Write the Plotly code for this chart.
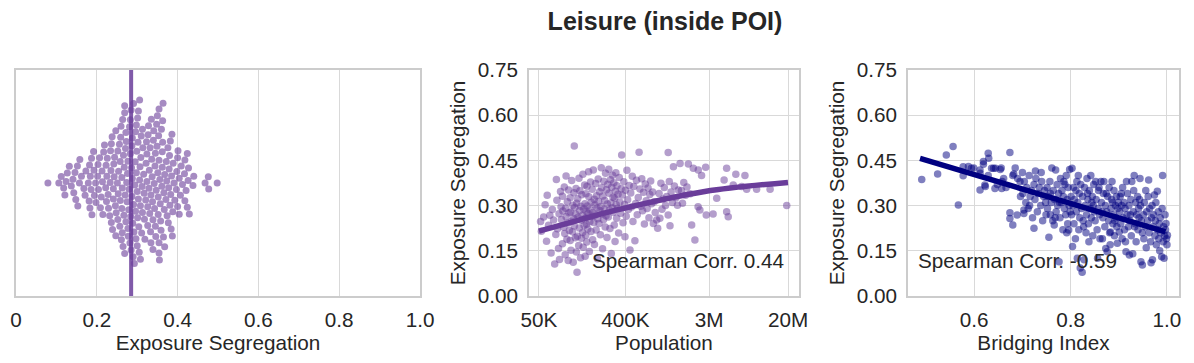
import numpy as np
import plotly.graph_objects as go

# --------------------------
# Data
# --------------------------
# Middle panel: city population (thousands) vs exposure segregation
population_k = [
    52, 53, 56, 58, 60, 61, 63, 65, 67, 69,
    71, 73, 75, 76, 77, 78, 80, 81, 82, 84,
    85, 86, 88, 88, 89, 91, 92, 93, 94, 95,
    96, 96, 98, 99, 100, 101, 102, 103, 104, 106,
    106, 107, 108, 110, 110, 112, 113, 114, 115, 116,
    117, 117, 118, 120, 121, 122, 123, 124, 125, 126,
    127, 128, 130, 131, 132, 133, 134, 136, 137, 138,
    139, 140, 142, 143, 144, 145, 147, 148, 150, 151,
    152, 153, 154, 155, 156, 157, 158, 159, 160, 162,
    163, 165, 166, 168, 170, 171, 173, 175, 176, 178,
    180, 182, 183, 185, 187, 189, 190, 192, 194, 196,
    198, 200, 202, 204, 206, 208, 210, 212, 215, 217,
    219, 222, 224, 226, 228, 231, 233, 236, 238, 241,
    243, 246, 248, 251, 254, 257, 259, 262, 265, 268,
    270, 273, 276, 279, 282, 285, 288, 291, 294, 297,
    300, 303, 306, 309, 312, 315, 318, 321, 324, 327,
    331, 335, 340, 345, 350, 357, 362, 366, 372, 378,
    385, 392, 396, 400, 408, 415, 422, 430, 438, 447,
    455, 463, 472, 480, 490, 503, 512, 522, 532, 545,
    556, 568, 580, 593, 605, 618, 632, 645, 660, 675,
    690, 705, 720, 735, 750, 770, 784, 800, 820, 849,
    870, 900, 918, 940, 965, 990, 1020, 1050, 1080, 1120,
    1120, 1150, 1170, 1200, 1240, 1270, 1300, 1350, 1400, 1430,
    1490, 1540, 1580, 1630, 1700, 1760, 1820, 1900, 1970, 2050,
    2130, 2310, 2300, 2400, 2500, 2760, 2800, 3300, 3600, 4300,
    4570, 4570, 4750, 5360, 5700, 6560, 7100, 7400, 9400, 13000, 19400,
]
segregation = [
    0.247, 0.215, 0.262, 0.303, 0.182, 0.334, 0.235, 0.268, 0.143, 0.287,
    0.252, 0.106, 0.204, 0.387, 0.318, 0.223, 0.158, 0.273, 0.121, 0.347,
    0.296, 0.254, 0.173, 0.331, 0.282, 0.228, 0.362, 0.207, 0.137, 0.291,
    0.398, 0.263, 0.188, 0.313, 0.242, 0.118, 0.352, 0.276, 0.217, 0.184,
    0.326, 0.279, 0.152, 0.248, 0.383, 0.213, 0.301, 0.112, 0.257, 0.343,
    0.232, 0.498, 0.294, 0.193, 0.271, 0.357, 0.146, 0.308, 0.079, 0.198,
    0.323, 0.261, 0.168, 0.391, 0.226, 0.284, 0.349, 0.127, 0.298, 0.251,
    0.192, 0.336, 0.267, 0.211, 0.404, 0.162, 0.289, 0.234, 0.368, 0.306,
    0.132, 0.259, 0.202, 0.339, 0.281, 0.238, 0.179, 0.364, 0.299, 0.222,
    0.274, 0.412, 0.329, 0.148, 0.246, 0.286, 0.378, 0.214, 0.311, 0.264,
    0.354, 0.187, 0.277, 0.418, 0.244, 0.321, 0.171, 0.302, 0.269, 0.373,
    0.219, 0.333, 0.292, 0.124, 0.256, 0.388, 0.314, 0.241, 0.346, 0.283,
    0.203, 0.297, 0.426, 0.359, 0.272, 0.157, 0.332, 0.253, 0.381, 0.288,
    0.317, 0.229, 0.407, 0.266, 0.353, 0.194, 0.305, 0.371, 0.262, 0.421,
    0.341, 0.285, 0.224, 0.386, 0.309, 0.141, 0.361, 0.293, 0.401, 0.328,
    0.278, 0.376, 0.236, 0.324, 0.181, 0.348, 0.409, 0.303, 0.258, 0.366,
    0.291, 0.338, 0.209, 0.393, 0.312, 0.275, 0.356, 0.468, 0.335, 0.243,
    0.379, 0.304, 0.197, 0.351, 0.265, 0.417, 0.319, 0.287, 0.367, 0.153,
    0.342, 0.295, 0.397, 0.247, 0.363, 0.183, 0.307, 0.384, 0.270, 0.327,
    0.477, 0.355, 0.298, 0.389, 0.283, 0.344, 0.239, 0.372, 0.316, 0.290,
    0.358, 0.260, 0.337, 0.382, 0.306, 0.345, 0.241, 0.313, 0.277, 0.252,
    0.225, 0.340, 0.258, 0.374, 0.288, 0.322, 0.360, 0.300, 0.330, 0.476,
    0.269, 0.380, 0.233, 0.345, 0.310, 0.429, 0.365, 0.326, 0.301, 0.352,
    0.440, 0.350, 0.308, 0.377, 0.334, 0.362, 0.438, 0.339, 0.236, 0.424,
    0.186, 0.418, 0.296, 0.285, 0.400, 0.427, 0.269, 0.272, 0.324, 0.385,
    0.424, 0.280, 0.263, 0.368, 0.404, 0.363, 0.400, 0.354, 0.354, 0.354, 0.300,
]

# fitted trend in the population panel
trend_pop_k = [50, 131, 320, 2700, 20000]
trend_seg = [0.215, 0.252, 0.285, 0.347, 0.377]

# Right panel: bridging index vs exposure segregation
bridging = [
    0.491, 0.524, 0.542, 0.556, 0.567, 0.577, 0.577, 0.588, 0.594, 0.599,
    0.612, 0.612, 0.612, 0.619, 0.619, 0.622, 0.623, 0.629, 0.629, 0.630,
    0.636, 0.640, 0.643, 0.644, 0.654, 0.656, 0.657, 0.661, 0.666, 0.674,
    0.674, 0.674, 0.680, 0.682, 0.685, 0.689, 0.695, 0.680, 0.700, 0.703,
    0.703, 0.690, 0.658, 0.648, 0.696,
    0.701, 0.704, 0.707, 0.709, 0.712, 0.714, 0.716, 0.719, 0.721, 0.724,
    0.726, 0.728, 0.731, 0.733, 0.735, 0.738, 0.740, 0.742, 0.744, 0.746,
    0.748, 0.749, 0.727, 0.715, 0.739, 0.724,
    0.751, 0.752, 0.754, 0.755, 0.757, 0.758, 0.760, 0.761, 0.763, 0.764,
    0.766, 0.767, 0.769, 0.770, 0.772, 0.773, 0.775, 0.776, 0.778, 0.779,
    0.781, 0.782, 0.784, 0.785, 0.787, 0.788, 0.790, 0.791, 0.793, 0.794,
    0.795, 0.796, 0.797, 0.798, 0.799, 0.758, 0.768, 0.777, 0.786, 0.792,
    0.801, 0.802, 0.803, 0.804, 0.805, 0.806, 0.807, 0.808, 0.810, 0.811,
    0.812, 0.813, 0.814, 0.815, 0.817, 0.818, 0.819, 0.820, 0.821, 0.823,
    0.824, 0.825, 0.826, 0.828, 0.829, 0.830, 0.832, 0.833, 0.834, 0.836,
    0.837, 0.838, 0.839, 0.841, 0.842, 0.843, 0.845, 0.846, 0.847, 0.848,
    0.849, 0.816, 0.827, 0.835, 0.844,
    0.851, 0.852, 0.853, 0.855, 0.856, 0.857, 0.858, 0.860, 0.861, 0.863,
    0.864, 0.866, 0.867, 0.868, 0.869, 0.871, 0.872, 0.873, 0.875, 0.876,
    0.877, 0.879, 0.880, 0.881, 0.883, 0.884, 0.885, 0.886, 0.888, 0.889,
    0.890, 0.891, 0.893, 0.894, 0.895, 0.896, 0.897, 0.898, 0.899, 0.859,
    0.865, 0.874, 0.882, 0.887, 0.892,
    0.901, 0.902, 0.903, 0.904, 0.906, 0.907, 0.908, 0.909, 0.911, 0.912,
    0.913, 0.915, 0.916, 0.917, 0.918, 0.920, 0.921, 0.922, 0.923, 0.925,
    0.926, 0.927, 0.929, 0.930, 0.931, 0.932, 0.934, 0.935, 0.936, 0.937,
    0.939, 0.940, 0.941, 0.942, 0.944, 0.945, 0.946, 0.947, 0.949, 0.949,
    0.905, 0.914, 0.924, 0.933, 0.943,
    0.951, 0.952, 0.953, 0.955, 0.956, 0.957, 0.958, 0.960, 0.961, 0.962,
    0.963, 0.964, 0.966, 0.967, 0.968, 0.969, 0.970, 0.971, 0.972, 0.974,
    0.975, 0.976, 0.977, 0.978, 0.980, 0.981, 0.982, 0.983, 0.984, 0.985,
    0.986, 0.987, 0.989, 0.990, 0.991, 0.992, 0.993, 0.994, 0.995, 0.996,
    0.997, 0.998, 0.999, 1.000, 1.001,
]
segregation_b = [
    0.387, 0.405, 0.468, 0.496, 0.302, 0.429, 0.399, 0.430, 0.424, 0.425,
    0.407, 0.418, 0.352, 0.446, 0.437, 0.368, 0.363, 0.474, 0.400, 0.457,
    0.424, 0.424, 0.357, 0.424, 0.420, 0.425, 0.357, 0.390, 0.360, 0.476,
    0.276, 0.257, 0.236, 0.405, 0.425, 0.269, 0.380, 0.400, 0.410, 0.274,
    0.285, 0.390, 0.380, 0.370, 0.330,
    0.340, 0.380, 0.310, 0.360, 0.290, 0.400, 0.330, 0.350, 0.260, 0.370,
    0.320, 0.390, 0.280, 0.340, 0.360, 0.300, 0.380, 0.250, 0.330, 0.350,
    0.310, 0.270, 0.415, 0.300, 0.410, 0.225,
    0.360, 0.290, 0.330, 0.195, 0.380, 0.270, 0.310, 0.425, 0.250, 0.350,
    0.236, 0.320, 0.418, 0.280, 0.370, 0.300, 0.340, 0.114, 0.260, 0.390,
    0.310, 0.350, 0.220, 0.330, 0.290, 0.370, 0.270, 0.400, 0.320, 0.240,
    0.360, 0.219, 0.300, 0.420, 0.280, 0.340, 0.260, 0.310, 0.380, 0.210,
    0.330, 0.270, 0.424, 0.164, 0.300, 0.360, 0.240, 0.320, 0.190, 0.350,
    0.280, 0.380, 0.125, 0.310, 0.220, 0.340, 0.260, 0.093, 0.370, 0.290,
    0.079, 0.330, 0.250, 0.120, 0.360, 0.300, 0.210, 0.270, 0.390, 0.320,
    0.240, 0.180, 0.350, 0.290, 0.400, 0.260, 0.330, 0.200, 0.300, 0.370,
    0.280, 0.400, 0.230, 0.340, 0.310,
    0.250, 0.380, 0.320, 0.220, 0.125, 0.290, 0.350, 0.270, 0.190, 0.380,
    0.310, 0.190, 0.260, 0.340, 0.380, 0.230, 0.300, 0.158, 0.280, 0.147,
    0.330, 0.250, 0.360, 0.210, 0.212, 0.290, 0.320, 0.380, 0.240, 0.270,
    0.350, 0.200, 0.300, 0.260, 0.330, 0.230, 0.175, 0.290, 0.310, 0.360,
    0.280, 0.340, 0.170, 0.310, 0.250,
    0.212, 0.280, 0.330, 0.240, 0.300, 0.190, 0.360, 0.260, 0.310, 0.220,
    0.290, 0.147, 0.380, 0.270, 0.340, 0.230, 0.300, 0.136, 0.250, 0.320,
    0.200, 0.380, 0.140, 0.280, 0.350, 0.400, 0.240, 0.310, 0.180, 0.270,
    0.330, 0.220, 0.290, 0.260, 0.390, 0.300, 0.114, 0.250, 0.103, 0.210,
    0.340, 0.180, 0.270, 0.230, 0.320,
    0.270, 0.190, 0.310, 0.230, 0.350, 0.160, 0.280, 0.250, 0.330, 0.385,
    0.210, 0.290, 0.180, 0.110, 0.260, 0.300, 0.120, 0.230, 0.270, 0.335,
    0.200, 0.250, 0.310, 0.170, 0.348, 0.220, 0.280, 0.190, 0.240, 0.150,
    0.260, 0.210, 0.130, 0.290, 0.400, 0.180, 0.230, 0.125, 0.200, 0.270,
    0.220, 0.241, 0.190, 0.170, 0.202,
]

# regression line in the bridging panel
trend_bridge = [0.4875, 0.997]
trend_bridge_seg = [0.457, 0.213]

# vertical line in the swarm panel
median_seg = 0.285

FONT = "Liberation Sans"
TXT = "#262626"
PURPLE = "#6a3d9a"
NAVY = "#000080"
W, H = 1194, 363
OFF = 8  # the page body adds an 8px margin around the figure
DOT = 7
SCAT = 7.5
FS = 20.7


# --------------------------
# Beeswarm offsets (pixel units) for the left panel
# --------------------------
def swarm_offsets(vals, px_per_unit, d):
    vals = np.asarray(vals)
    order = np.argsort(vals, kind="stable")
    offs = np.zeros(len(vals))
    placed = []
    for idx in order:
        x = vals[idx] * px_per_unit
        near = [(px, py) for px, py in placed if abs(px - x) < d]
        cands = [0.0]
        for px, py in near:
            dy = np.sqrt(d * d - (px - x) ** 2)
            cands += [py + dy, py - dy]
        cands.sort(key=abs)
        for c in cands:
            if all((px - x) ** 2 + (py - c) ** 2 >= d * d - 1e-6 for px, py in near):
                break
        placed.append((x, c))
        offs[idx] = c
    return offs


def xd(a, b):
    return [(a - OFF) / W, (b - OFF) / W]


# panel positions in page pixels
p1 = (16, 420)
p2 = (529, 799)
p3 = (908, 1179)
top, bot = 70, 296
ydom = [(H - bot + OFF) / H, (H - top + OFF) / H]

swarm_y = swarm_offsets(segregation, p1[1] - p1[0], DOT)

fig = go.Figure()

fig.add_trace(go.Scatter(
    x=segregation, y=swarm_y, mode="markers", xaxis="x", yaxis="y",
    marker=dict(size=DOT, color=PURPLE, opacity=0.6, line=dict(width=0)),
    showlegend=False, hoverinfo="x",
))
fig.add_trace(go.Scatter(
    x=[median_seg, median_seg], y=[-113, 113], mode="lines", xaxis="x", yaxis="y",
    line=dict(color="rgba(106,61,154,0.85)", width=4), showlegend=False,
))

fig.add_trace(go.Scatter(
    x=[p * 1000 for p in population_k], y=segregation, mode="markers",
    xaxis="x2", yaxis="y2",
    marker=dict(size=SCAT, color=PURPLE, opacity=0.5, line=dict(width=0)),
    showlegend=False,
))
fig.add_trace(go.Scatter(
    x=[p * 1000 for p in trend_pop_k], y=trend_seg, mode="lines",
    line=dict(color=PURPLE, width=5.5, shape="spline"),
    xaxis="x2", yaxis="y2", showlegend=False,
))

fig.add_trace(go.Scatter(
    x=bridging, y=segregation_b, mode="markers", xaxis="x3", yaxis="y3",
    marker=dict(size=SCAT, color=NAVY, opacity=0.5, line=dict(width=0)),
    showlegend=False,
))
fig.add_trace(go.Scatter(
    x=trend_bridge, y=trend_bridge_seg, mode="lines",
    line=dict(color=NAVY, width=5.5), xaxis="x3", yaxis="y3", showlegend=False,
))

axis_common = dict(
    showline=True, mirror=True, linecolor="#cccccc", linewidth=1.5,
    showgrid=True, gridcolor="#d9d9d9", gridwidth=1, zeroline=False,
    ticks="", ticklen=0, automargin=False,
    tickfont=dict(family=FONT, size=FS, color=TXT),
    title_font=dict(family=FONT, size=FS, color=TXT),
)

yticks = [0, 0.15, 0.30, 0.45, 0.60, 0.75]
ytext = ["0.00", "0.15", "0.30", "0.45", "0.60", "0.75"]

fig.update_layout(
    width=W, height=H,
    margin=dict(l=0, r=0, t=0, b=0, autoexpand=False),
    paper_bgcolor="white", plot_bgcolor="white",
    font=dict(family=FONT, color=TXT),
    title=dict(text="<b>Leisure (inside POI)</b>", x=(665 - OFF) / W, xanchor="center",
               y=1 - (21 - OFF) / H, yanchor="middle",
               font=dict(family=FONT, size=25, color=TXT)),
    xaxis=dict(axis_common, domain=xd(*p1), anchor="y",
               range=[0, 1], tickvals=[0, 0.2, 0.4, 0.6, 0.8, 1.0],
               ticktext=["0", "0.2", "0.4", "0.6", "0.8", "1.0"],
               ticklabelstandoff=4,
               title=dict(text="Exposure Segregation", standoff=2)),
    yaxis=dict(axis_common, domain=ydom, anchor="x", range=[-113, 113],
               showgrid=False, showticklabels=False),
    xaxis2=dict(axis_common, domain=xd(*p2), anchor="y2",
                type="log", range=[4.595, 7.416],
                tickvals=[5e4, 4e5, 3e6, 2e7], ticktext=["50K", "400K", "3M", "20M"],
                ticklabelstandoff=4,
                title=dict(text="Population", standoff=2)),
    yaxis2=dict(axis_common, domain=ydom, anchor="x2", range=[0, 0.75],
                tickvals=yticks, ticktext=ytext, ticklabelstandoff=5,
                title=dict(text="Exposure Segregation", standoff=7)),
    xaxis3=dict(axis_common, domain=xd(*p3), anchor="y3",
                range=[0.4625, 1.025], tickvals=[0.6, 0.8, 1.0],
                ticktext=["0.6", "0.8", "1.0"], ticklabelstandoff=4,
                title=dict(text="Bridging Index", standoff=2)),
    yaxis3=dict(axis_common, domain=ydom, anchor="x3", range=[0, 0.75],
                tickvals=yticks, ticktext=ytext, ticklabelstandoff=5,
                title=dict(text="Exposure Segregation", standoff=7)),
    annotations=[
        dict(text="Spearman Corr. 0.44", xref="paper", yref="paper",
             x=(786 - OFF) / W, y=1 - (260 - OFF) / H, xanchor="right", yanchor="middle",
             showarrow=False, font=dict(family=FONT, size=FS, color=TXT)),
        dict(text="Spearman Corr. -0.59", xref="paper", yref="paper",
             x=(916 - OFF) / W, y=1 - (260 - OFF) / H, xanchor="left", yanchor="middle",
             showarrow=False, font=dict(family=FONT, size=FS, color=TXT)),
    ],
)

fig.write_html("out.html")
